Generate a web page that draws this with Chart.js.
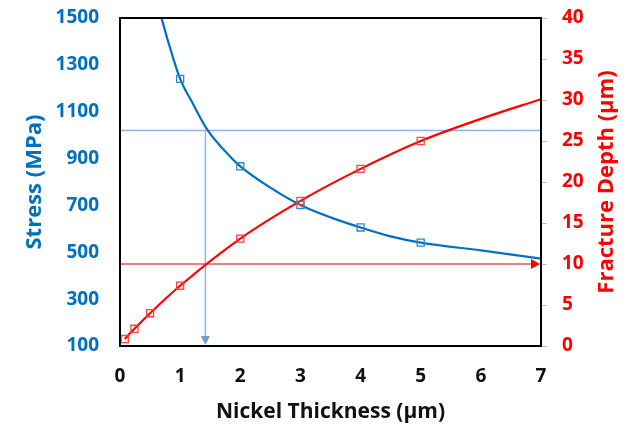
<!DOCTYPE html>
<html>
<head>
<meta charset="utf-8">
<script src="https://cdn.jsdelivr.net/npm/chart.js@4.4.1/dist/chart.umd.min.js"></script>
<style>
html,body{margin:0;padding:0;background:#fff;}
#wrap{width:626px;height:426px;position:relative;}
</style>
</head>
<body>
<div id="wrap"><canvas id="c"></canvas></div>
<script>
// ---- data ----
const stressMarkX = [1, 2, 3, 4, 5];
const stressMarkY = [1240, 867, 702, 606, 541];
const stressCurveX = [0.69, 0.8, 1, 1.2, 1.46, 1.83, 2, 2.5, 3, 3.5, 4, 4.5, 5, 6, 7];
const stressCurveY = [1500, 1400, 1240, 1140, 1020, 909, 867, 776, 702, 649, 606, 568, 541, 508, 473];
const depthMarkX = [0.08, 0.24, 0.5, 1, 2, 3, 4, 5];
const depthMarkY = [0.85, 2.1, 4.0, 7.35, 13.1, 17.7, 21.6, 25.0];
const depthCurveX = [0.08, 0.24, 0.5, 1, 2, 3, 4, 5, 6, 7];
const depthCurveY = [0.85, 2.1, 4.0, 7.35, 13.1, 17.7, 21.6, 25.0, 27.7, 30.1];
const refStress = 1020;     // horizontal light-blue guide (MPa)
const refThickness = 1.42;  // vertical light-blue guide (µm)
const refDepth = 10;        // horizontal red guide (µm)
const xTicks = [0, 1, 2, 3, 4, 5, 6, 7];
const stressTicks = [100, 300, 500, 700, 900, 1100, 1300, 1500];
const depthTicks = [0, 5, 10, 15, 20, 25, 30, 35, 40];

const zip = (xs, ys) => xs.map((x, i) => ({x: x, y: ys[i]}));

const BLUE = '#0070C0';
const RED = '#FF0000';
const GUIDE = '#8DB4E2';
const FONT = "'Open Sans', 'DejaVu Sans', sans-serif";

const guides = {
  id: 'guides',
  beforeDatasetsDraw(chart) {
    const {ctx, scales: {x, y, y2}} = chart;
    const x0 = x.getPixelForValue(0), x7 = x.getPixelForValue(7);
    const ys = y.getPixelForValue(refStress);
    const xv = x.getPixelForValue(refThickness);
    const yb = y.getPixelForValue(100);
    const yd = y2.getPixelForValue(refDepth);
    ctx.save();
    ctx.strokeStyle = GUIDE; ctx.lineWidth = 1.5;
    ctx.beginPath(); ctx.moveTo(x0, ys); ctx.lineTo(x7, ys); ctx.stroke();
    ctx.beginPath(); ctx.moveTo(xv, ys); ctx.lineTo(xv, yb - 8); ctx.stroke();
    ctx.fillStyle = '#6E9ED6';
    ctx.beginPath(); ctx.moveTo(xv - 4.5, yb - 10); ctx.lineTo(xv + 4.5, yb - 10); ctx.lineTo(xv, yb - 1); ctx.closePath(); ctx.fill();
    ctx.strokeStyle = '#E00000'; ctx.lineWidth = 1.2;
    ctx.beginPath(); ctx.moveTo(x0, yd); ctx.lineTo(x7 - 8, yd); ctx.stroke();
    ctx.fillStyle = RED;
    ctx.beginPath(); ctx.moveTo(x7 - 10, yd - 5); ctx.lineTo(x7 - 10, yd + 5); ctx.lineTo(x7 - 1, yd); ctx.closePath(); ctx.fill();
    ctx.restore();
  },
  afterDraw(chart) {
    const {ctx, chartArea: a} = chart;
    ctx.save();
    ctx.strokeStyle = '#000'; ctx.lineWidth = 2;
    ctx.strokeRect(a.left, a.top, a.right - a.left, a.bottom - a.top);
    ctx.fillStyle = RED;
    ctx.font = "bold 22px " + FONT;
    ctx.textAlign = 'center'; ctx.textBaseline = 'middle';
    ctx.translate(607, 182);
    ctx.rotate(-Math.PI / 2);
    ctx.fillText('Fracture Depth (µm)', 0, 0);
    ctx.restore();
  }
};

const noPad = s => { s.paddingTop = 0; s.paddingBottom = 0; };

new Chart(document.getElementById('c'), {
  type: 'scatter',
  data: {
    datasets: [
      {label: 'Stress pts', data: zip(stressMarkX, stressMarkY), yAxisID: 'y', showLine: false,
       pointStyle: 'rect', pointRadius: 5, borderColor: '#2E86D0', backgroundColor: 'rgba(0,0,0,0)', borderWidth: 1.3},
      {label: 'Depth pts', data: zip(depthMarkX, depthMarkY), yAxisID: 'y2', showLine: false,
       pointStyle: 'rect', pointRadius: 5, borderColor: '#FF4040', backgroundColor: 'rgba(0,0,0,0)', borderWidth: 1.3},
      {label: 'Stress', data: zip(stressCurveX, stressCurveY), yAxisID: 'y', showLine: true,
       pointRadius: 0, borderColor: BLUE, borderWidth: 2.2, cubicInterpolationMode: 'monotone', fill: false},
      {label: 'Depth', data: zip(depthCurveX, depthCurveY), yAxisID: 'y2', showLine: true,
       pointRadius: 0, borderColor: RED, borderWidth: 2.2, cubicInterpolationMode: 'monotone', fill: false}
    ]
  },
  options: {
    responsive: true,
    maintainAspectRatio: false,
    animation: false,
    layout: {padding: {left: 0, right: 0, top: 18, bottom: 0}},
    plugins: {legend: {display: false}, tooltip: {enabled: false}},
    scales: {
      x: {
        type: 'linear', min: 0, max: 7,
        afterBuildTicks: s => { s.ticks = xTicks.map(v => ({value: v})); },
        afterFit: s => { s.height = 80; s.paddingLeft = 0; s.paddingRight = 0; },
        grid: {display: false, drawTicks: false},
        border: {display: false},
        ticks: {padding: 19, color: '#111', font: {family: FONT, size: 19, weight: 'bold'}, callback: v => String(v)},
        title: {display: true, text: 'Nickel Thickness (µm)', color: '#111',
                font: {family: FONT, size: 21, weight: 'bold'}, padding: {top: 0, bottom: 1}}
      },
      y: {
        type: 'linear', position: 'left', min: 100, max: 1500,
        afterBuildTicks: s => { s.ticks = stressTicks.map(v => ({value: v})); },
        afterFit: s => { s.width = 120; noPad(s); },
        grid: {display: false, drawTicks: false},
        border: {display: false},
        ticks: {padding: 21, color: BLUE, font: {family: FONT, size: 19, weight: 'bold'}, callback: v => String(v)},
        title: {display: true, text: 'Stress (MPa)', color: BLUE,
                font: {family: FONT, size: 22, weight: 'bold'}, padding: {top: 22, bottom: 0}}
      },
      y2: {
        type: 'linear', position: 'right', min: 0, max: 40,
        afterBuildTicks: s => { s.ticks = depthTicks.map(v => ({value: v})); },
        afterFit: s => { s.width = 85; noPad(s); },
        grid: {display: true, drawOnChartArea: false, drawTicks: true, tickLength: 6, color: '#BFBFBF'},
        border: {display: false},
        ticks: {padding: 15, color: RED, font: {family: FONT, size: 19, weight: 'bold'}, callback: v => String(v)}
      }
    }
  },
  plugins: [guides]
});
</script>
</body>
</html>
